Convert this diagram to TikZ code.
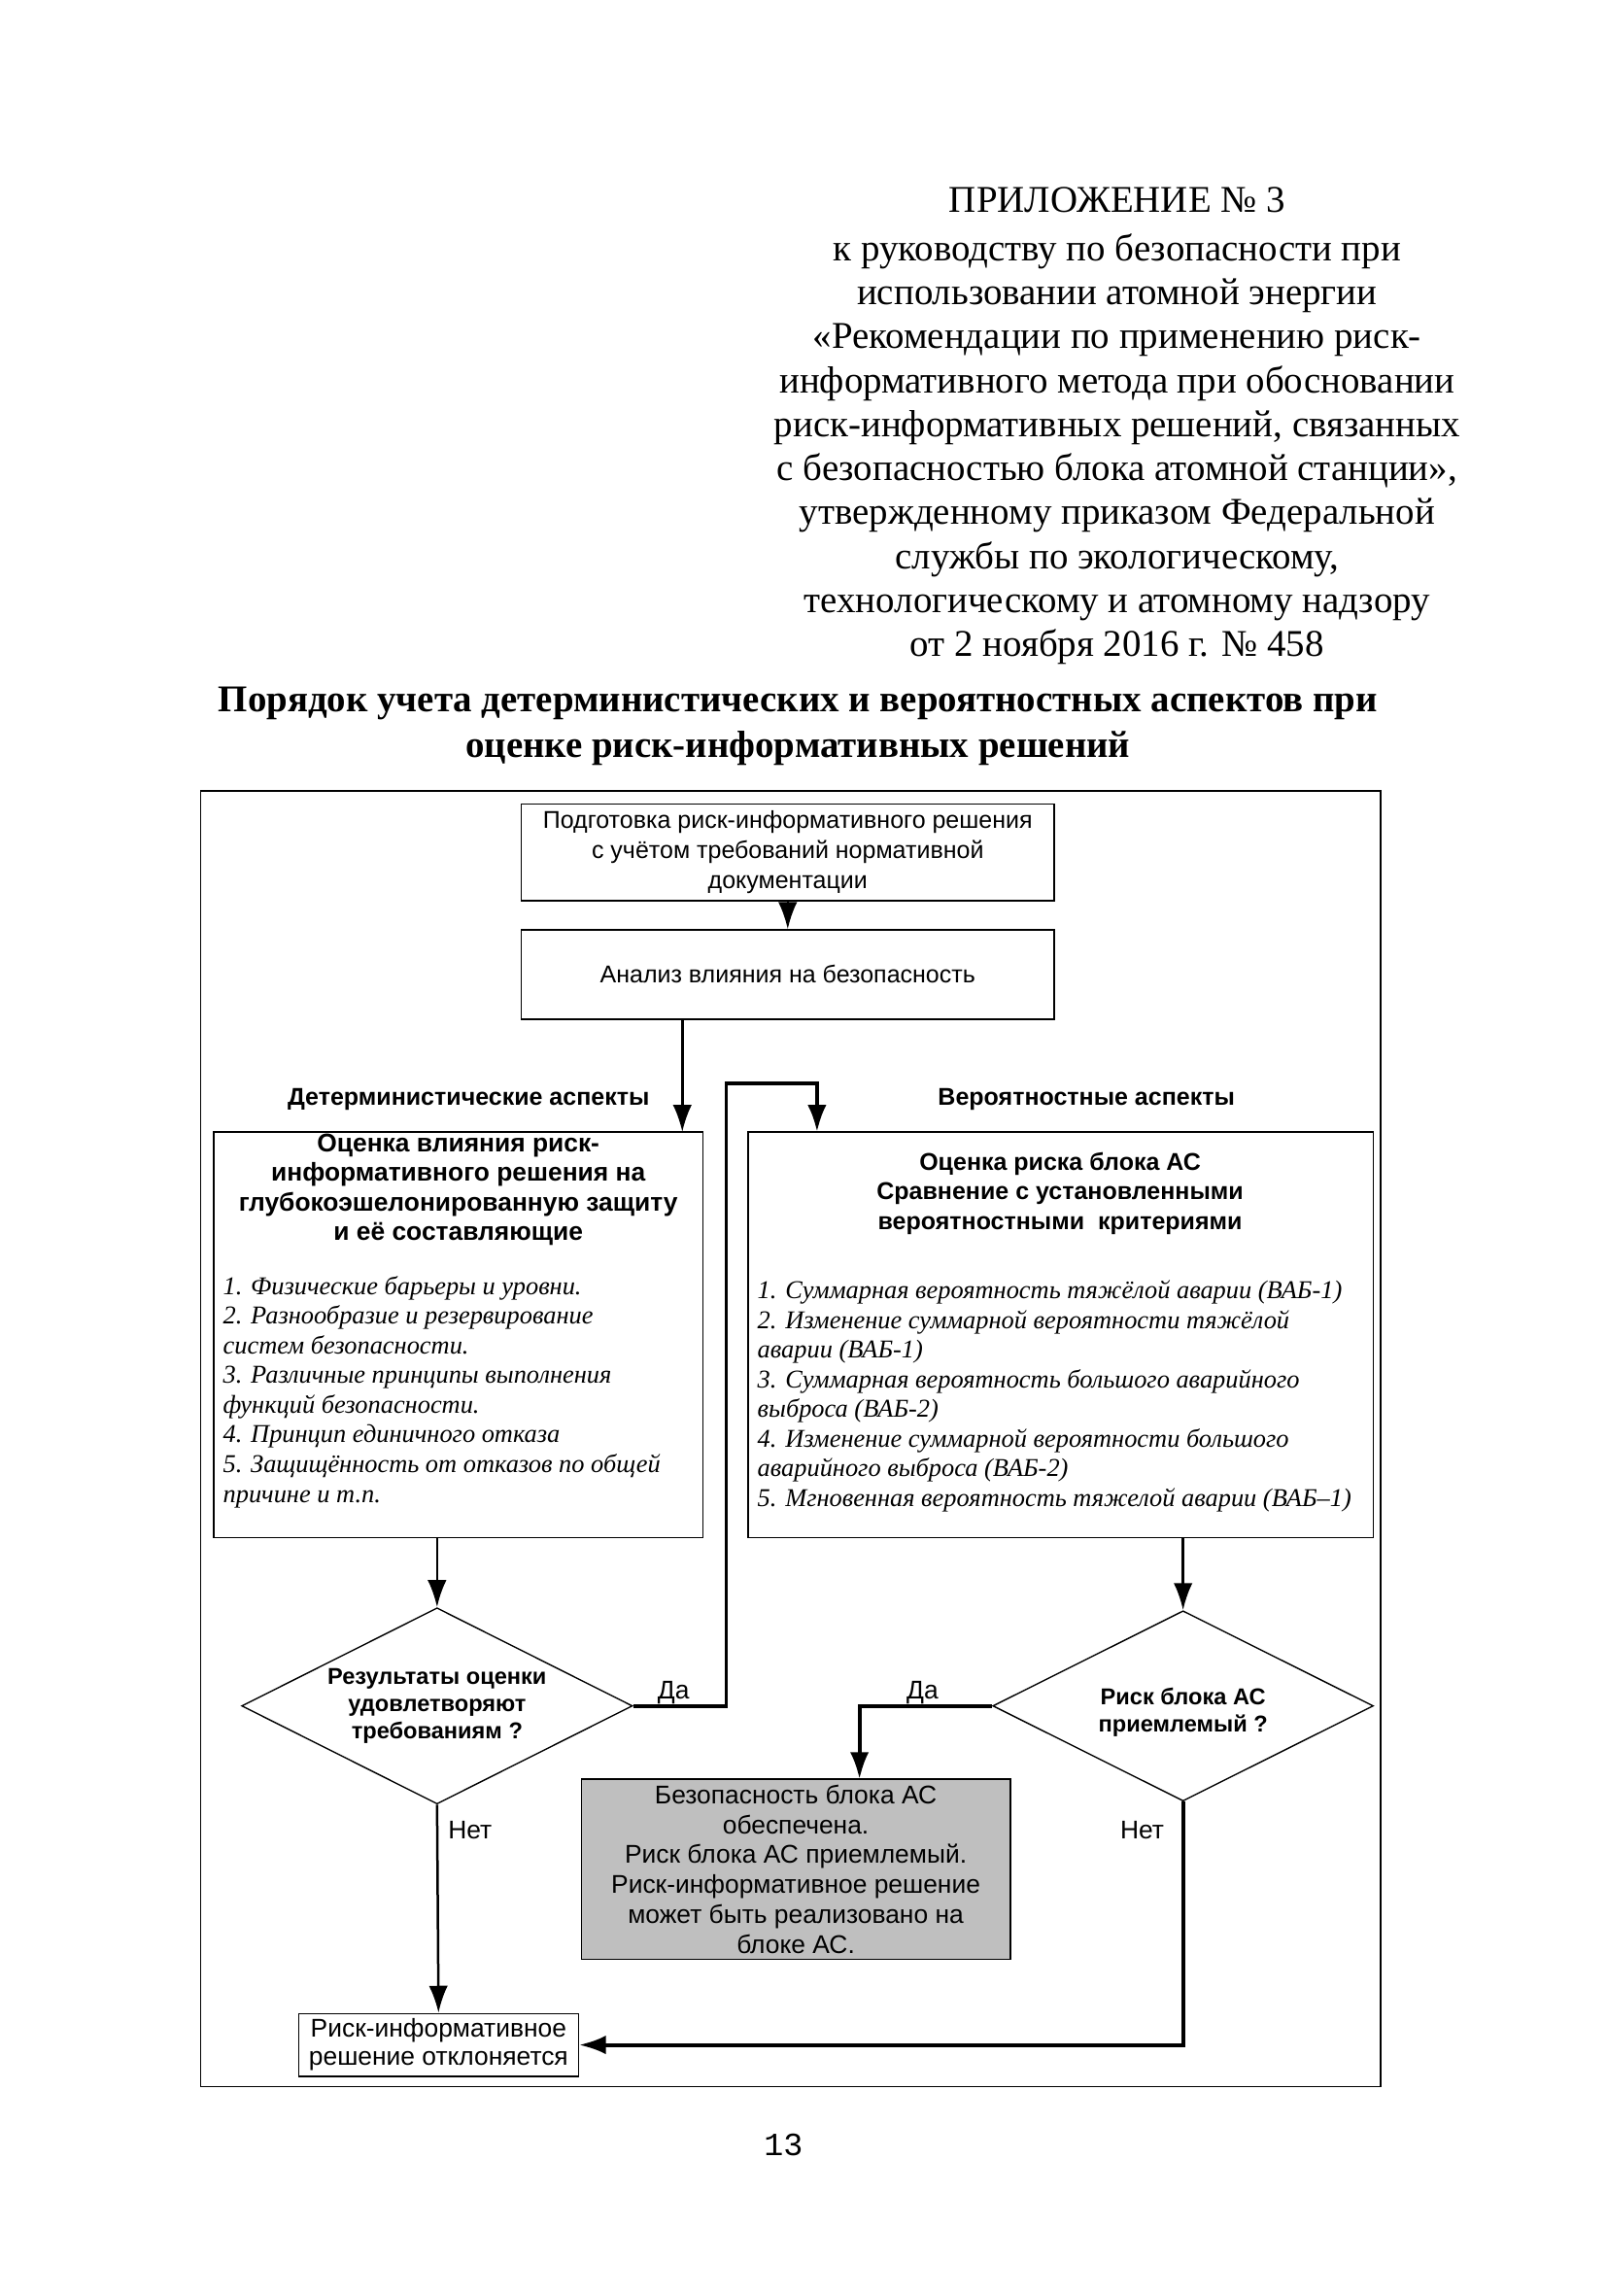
\documentclass[tikz,border=0pt]{standalone}
\usepackage{fontspec}
\setmainfont{Liberation Serif}
\setsansfont{Liberation Sans}
\setmonofont{Liberation Mono}
\usepackage{tikz}
\usetikzlibrary{shapes.geometric,arrows.meta}

\tikzset{
  stage/.style={draw,line width=0.5pt,inner sep=0pt,align=center,font=\sffamily\fontsize{9}{11.1}\selectfont},
  choice/.style={draw,diamond,aspect=2,line width=0.5pt,inner sep=0pt,align=center,font=\sffamily\bfseries\fontsize{8.5}{10}\selectfont},
  flow/.style={-{Latex[length=10pt,width=7pt]},line width=0.9pt},
  yesflow/.style={flow,line width=1.4pt},
  caption/.style={font=\sffamily\bfseries\fontsize{9}{11}\selectfont},
  answer/.style={font=\sffamily\fontsize{9.5}{11}\selectfont},
  heading/.style={align=center,font=\sffamily\bfseries\fontsize{9.5}{10.9}\selectfont},
  points/.style={align=left,inner sep=0pt,font=\itshape\fontsize{9.5}{11}\selectfont}
}

\begin{document}
\begin{tikzpicture}[x=0.5425pt,y=-0.5425pt]
\useasboundingbox (0,0) rectangle (1097,1568);

% header of the page
\node[align=center,font=\fontsize{14}{16.3}\selectfont] (annex) at (763,291) {ПРИЛОЖЕНИЕ № 3\\[1.5pt]
к руководству по безопасности при\\
использовании атомной энергии\\
«Рекомендации по применению риск-\\
информативного метода при обосновании\\
риск-информативных решений, связанных\\
с безопасностью блока атомной станции»,\\
утвержденному приказом Федеральной\\
службы по экологическому,\\
технологическому и атомному надзору\\
от 2 ноября 2016 г. № 458};
\node[align=center,font=\bfseries\fontsize{14}{16.8}\selectfont] (title) at (545,496) {Порядок учета детерминистических и вероятностных аспектов при\\
оценке риск-информативных решений};

% frame
\draw[line width=0.6pt] (137,540) rectangle (943,1425);

% boxes
\node[stage,minimum width=197.5pt,minimum height=35.8pt] (prep) at (538,582) {Подготовка риск-информативного решения\\
с учётом требований нормативной\\
документации};
\node[stage,minimum width=197.5pt,minimum height=33.1pt] (analysis) at (538,665.5) {Анализ влияния на безопасность};

\node[caption] (detlabel) at (320,751) {Детерминистические аспекты};
\node[caption] (problabel) at (742,751) {Вероятностные аспекты};

\node[draw,line width=0.5pt,minimum width=181.2pt,minimum height=150.3pt] (detbox) at (313,911.5) {};
\node[heading] (dethead) at (313,812.5) {Оценка влияния риск-\\
информативного решения на\\
глубокоэшелонированную защиту\\
и её составляющие};
\node[points,anchor=west] (detlist) at (152,950.5) {1. Физические барьеры и уровни.\\
2. Разнообразие и резервирование\\
систем безопасности.\\
3. Различные принципы выполнения\\
функций безопасности.\\
4. Принцип единичного отказа\\
5. Защищённость от отказов по общей\\
причине и т.п.};

\node[draw,line width=0.5pt,minimum width=231.6pt,minimum height=150.3pt] (probbox) at (724.5,911.5) {};
\node[heading,font=\sffamily\bfseries\fontsize{9}{10.9}\selectfont] (probhead) at (724,815) {Оценка риска блока АС\\
Сравнение с установленными\\
вероятностными~~критериями};
\node[points,anchor=west] (problist) at (517,953.5) {1. Суммарная вероятность тяжёлой аварии (ВАБ-1)\\
2. Изменение суммарной вероятности тяжёлой\\
аварии (ВАБ-1)\\
3. Суммарная вероятность большого аварийного\\
выброса (ВАБ-2)\\
4. Изменение суммарной вероятности большого\\
аварийного выброса (ВАБ-2)\\
5. Мгновенная вероятность тяжелой аварии (ВАБ–1)};

% decisions
\node[choice,minimum width=144.8pt,minimum height=72.7pt] (ldec) at (298.5,1165) {Результаты оценки\\
удовлетворяют\\
требованиям ?};
\node[choice,minimum width=141pt,minimum height=70.5pt] (rdec) at (808,1165) {\\[1pt]Риск блока АС\\
приемлемый ?};

\node[stage,fill=black!25,minimum width=159pt,minimum height=66.7pt,font=\sffamily\fontsize{9.5}{11.1}\selectfont] (safe) at (543.5,1276.5) {Безопасность блока АС\\
обеспечена.\\
Риск блока АС приемлемый.\\
Риск-информативное решение\\
может быть реализовано на\\
блоке АС.};
\node[stage,minimum width=103.6pt,minimum height=23.3pt,font=\sffamily\fontsize{9.5}{10.4}\selectfont] (reject) at (299.5,1396.5) {Риск-информативное\\
решение отклоняется};

\node[answer] (yesleft) at (460,1156) {Да};
\node[answer] (yesright) at (630,1156) {Да};
\node[answer] (noleft) at (321,1250) {Нет};
\node[answer] (noright) at (780,1250) {Нет};

% connectors
\coordinate (dettop) at (466,773);
\coordinate (yesbend) at (496,740);
\coordinate (probtop) at (558,773);
\coordinate (safetop) at (587,1215);
\draw[flow] (prep) -- (analysis);
\draw[flow] (analysis.south -| dettop) -- (dettop);
\draw[flow] (detbox.south -| ldec.north) -- (ldec.north);
\draw[flow] (probbox.south -| rdec.north) -- (rdec.north);
\draw[yesflow] (ldec.east) -| (yesbend) -| (probtop);
\draw[yesflow] (rdec.west) -| (safetop);
\draw[flow] (ldec.south) -- (reject.north);
\draw[yesflow] (rdec.south) |- (reject.east);

\node[font=\ttfamily\fontsize{12}{14}\selectfont] (page) at (535,1465) {13};
\end{tikzpicture}
\end{document}
